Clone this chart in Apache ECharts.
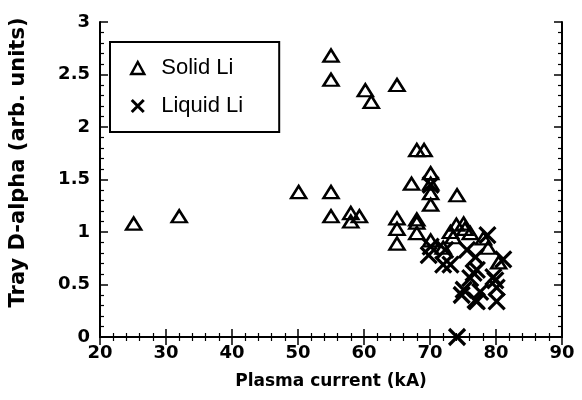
<!DOCTYPE html>
<html><head><meta charset="utf-8">
<script src="https://cdn.jsdelivr.net/npm/echarts@6/dist/echarts.min.js"></script>
<style>html,body{margin:0;padding:0;background:#fff}#c{width:582px;height:400px}</style>
</head><body><div id="c"></div>
<script>
const seriesNames = ['Solid Li', 'Liquid Li'];
const solidX = [25.1,32.0,50.1,55.0,55.0,55.0,55.0,58.0,58.0,59.3,60.2,61.1,65.0,65.0,65.0,65.0,67.2,68.0,69.1,68.0,68.0,68.0,70.1,70.1,70.1,70.1,70.1,72.0,73.1,73.5,74.0,74.1,75.1,75.3,76.1,78.1,78.8,80.4];
const solidY = [1.08,1.15,1.38,2.68,2.45,1.38,1.15,1.18,1.10,1.15,2.35,2.24,2.40,1.13,1.03,0.89,1.46,1.78,1.78,1.12,1.09,0.99,1.56,1.46,1.37,1.26,0.92,0.85,1.00,0.95,1.07,1.35,1.08,1.03,0.99,0.94,0.85,0.71];
const liquidX = [70.1,70.1,69.8,72.0,72.3,73.1,75.6,78.7,76.9,81.1,77.1,76.6,76.1,79.6,79.9,75.1,74.8,77.6,80.1,76.9,77.1,80.1,74.1];
const liquidY = [1.45,0.86,0.78,0.69,0.83,0.69,0.83,0.97,0.76,0.74,0.64,0.61,0.56,0.57,0.54,0.45,0.40,0.43,0.47,0.35,0.34,0.34,0.00];
const xTicks = [20,30,40,50,60,70,80,90];
const yTicks = [0,0.5,1,1.5,2,2.5,3];

const zip = (a,b) => a.map((v,i)=>[v,b[i]]);
const tickFont = {fontFamily:'DejaVu Sans', fontWeight:'bold', fontSize:18, color:'#000'};
const xSym = 'path://M0,0L10,10M10,0L0,10';
const chart = echarts.init(document.getElementById('c'), null, {renderer:'canvas'});
const commonTick = {show:true, inside:true, length:8, lineStyle:{color:'#000', width:1.5}};
const commonMinor = {show:true, splitNumber:5, length:4, lineStyle:{color:'#000', width:1.2}};
chart.setOption({
  animation:false,
  backgroundColor:'#fff',
  grid:{left:99, right:20, top:22, bottom:63},
  legend:{
    left:110, top:42, orient:'vertical', data:[
      {name:seriesNames[0], icon:'triangle', itemStyle:{color:'rgba(0,0,0,0)', borderColor:'#000', borderWidth:2.5}},
      {name:seriesNames[1], icon:xSym, itemStyle:{color:'rgba(0,0,0,0)', borderColor:'#000', borderWidth:3}}
    ],
    itemWidth:13, itemHeight:12, itemGap:12,
    borderColor:'#000', borderWidth:2, padding:[13,36,13,20],
    textStyle:{fontFamily:'Liberation Sans', fontSize:22, lineHeight:26, color:'#000', padding:[0,0,0,12]}
  },
  xAxis:[{
    type:'value', min:20, max:90, interval:10,
    name:'Plasma current (kA)', nameLocation:'middle', nameGap:36,
    nameTextStyle:{fontFamily:'DejaVu Sans', fontWeight:'bold', fontSize:17, color:'#000'},
    axisLine:{show:true, lineStyle:{color:'#000', width:2}},
    axisTick:commonTick, minorTick:commonMinor, splitLine:{show:false},
    axisLabel:Object.assign({margin:7, formatter:v=>xTicks.includes(v)?String(v):''}, tickFont)
  },{
    type:'value', min:20, max:90, interval:10, position:'top',
    axisLine:{show:true, lineStyle:{color:'#000', width:2}},
    axisTick:commonTick, minorTick:commonMinor, splitLine:{show:false}, axisLabel:{show:false}
  }],
  yAxis:[{
    type:'value', min:0, max:3, interval:0.5,
    name:'Tray D-alpha (arb. units)', nameLocation:'middle', nameGap:71, nameRotate:90,
    nameTextStyle:{fontFamily:'DejaVu Sans', fontWeight:'bold', fontSize:21, color:'#000', padding:[0,0,0,34]},
    axisLine:{show:true, lineStyle:{color:'#000', width:2}},
    axisTick:commonTick, minorTick:commonMinor, splitLine:{show:false},
    axisLabel:Object.assign({margin:10, formatter:v=>yTicks.includes(v)?String(v):''}, tickFont)
  },{
    type:'value', min:0, max:3, interval:0.5, position:'right',
    axisLine:{show:true, lineStyle:{color:'#000', width:2}},
    axisTick:commonTick, minorTick:commonMinor, splitLine:{show:false}, axisLabel:{show:false}
  }],
  series:[{
    name:seriesNames[0], type:'scatter', data:zip(solidX, solidY),
    symbol:'triangle', symbolSize:[15,12],
    itemStyle:{color:'rgba(0,0,0,0)', borderColor:'#000', borderWidth:2.5, opacity:1}
  },{
    name:seriesNames[1], type:'scatter', data:zip(liquidX, liquidY),
    symbol:xSym, symbolSize:16,
    itemStyle:{color:'rgba(0,0,0,0)', borderColor:'#000', borderWidth:3.2, opacity:1}
  }]
});
</script></body></html>
